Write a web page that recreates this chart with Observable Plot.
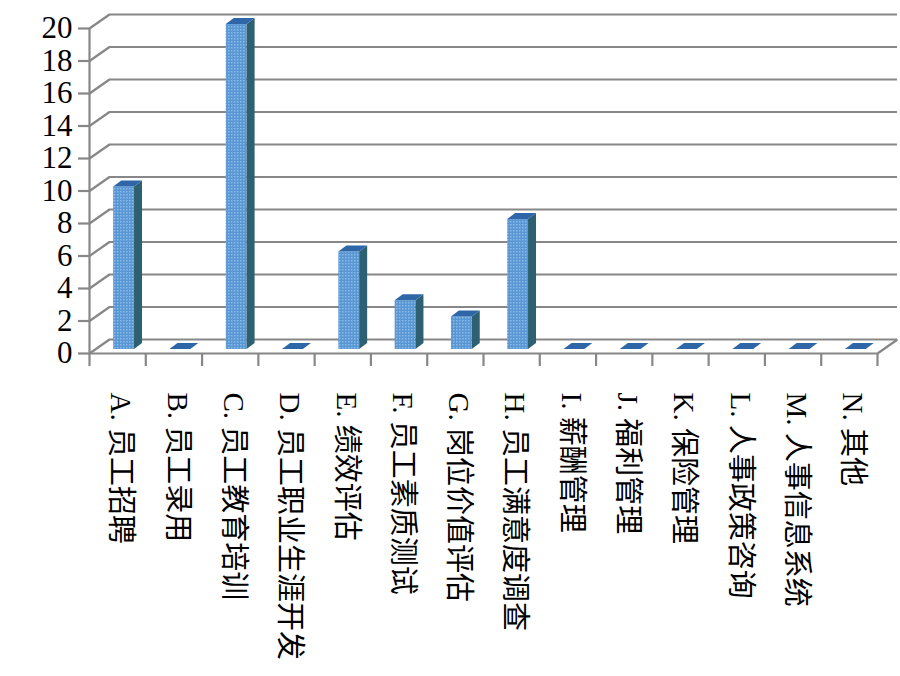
<!DOCTYPE html>
<html>
<head>
<meta charset="utf-8">
<script src="https://cdn.jsdelivr.net/npm/d3@7"></script>
<script src="https://cdn.jsdelivr.net/npm/@observablehq/plot@0.6"></script>
<style>
  html, body { margin: 0; padding: 0; background: #fff; }
</style>
</head>
<body>
<div id="chart"></div>
<script>
const cats = ["A. 员工招聘","B. 员工录用","C. 员工教育培训","D. 员工职业生涯开发","E. 绩效评估","F. 员工素质测试","G. 岗位价值评估","H. 员工满意度调查","I. 薪酬管理","J. 福利管理","K. 保险管理","L. 人事政策咨询","M. 人事信息系统","N. 其他"];
const values = [10, 0, 20, 0, 6, 3, 2, 8, 0, 0, 0, 0, 0, 0];
const yTicks = [0, 2, 4, 6, 8, 10, 12, 14, 16, 18, 20];

const W = 900, H = 676, mL = 89, mR = 23, mT = 28, mB = 323;
const n = cats.length;
const pxX = (W - mL - mR) / n;
const pxY = (H - mT - mB) / 20;
// 3D depth (pixels converted to data units)
const wallX = 20 / pxX, wallY = 14 / pxY;
const barA = 0.43, barB = 0.80, depX = 8 / pxX, depY = 6 / pxY;

const bars = cats.map((c, i) => ({cat: c, i, v: values[i], x1: i + barA, x2: i + barB, xc: i + 0.5}));
const sideData = bars.filter(d => d.v > 0).flatMap(d => [
  {cat: d.cat, x: d.x2, y1: 0, y2: d.v},
  {cat: d.cat, x: d.x2 + depX, y1: depY, y2: d.v + depY}
]);
const topData = bars.flatMap(d => [
  {cat: d.cat, y: d.v, x1: d.x1, x2: d.x2},
  {cat: d.cat, y: d.v + depY, x1: d.x1 + depX, x2: d.x2 + depX}
]);

const gridColor = "#878787";
const serif = "Liberation Serif, Times New Roman, Noto Sans CJK SC, serif";

const plot = Plot.plot({
  width: W, height: H,
  marginLeft: mL, marginRight: mR, marginTop: mT, marginBottom: mB,
  style: {background: "#fff", color: "#000", overflow: "visible"},
  x: {type: "linear", domain: [0, n]},
  y: {domain: [0, 20]},
  marks: [
    // back wall gridlines
    Plot.ruleY(yTicks, {y: d => d + wallY, x1: wallX, x2: n + wallX, stroke: gridColor, strokeWidth: 2.2}),
    // side wall diagonals
    Plot.link(yTicks, {x1: 0, y1: d => d, x2: wallX, y2: d => d + wallY, stroke: gridColor, strokeWidth: 2.2}),
    // floor front edge and right edge
    Plot.ruleY([0], {x1: 0, x2: n, stroke: gridColor, strokeWidth: 2.2}),
    Plot.link([0], {x1: n, y1: 0, x2: n + wallX, y2: wallY, stroke: gridColor, strokeWidth: 2.2}),
    // bars: front, side, top
    Plot.rect(bars.filter(d => d.v > 0), {x1: "x1", x2: "x2", y1: 0, y2: "v", fill: "url(#dots)", dy: -4}),
    Plot.areaY(sideData, {x: "x", y1: "y1", y2: "y2", z: "cat", fill: "#2d6070", dy: -4}),
    Plot.areaX(topData, {y: "y", x1: "x1", x2: "x2", z: "cat", fill: "#2f66a8", dy: -4}),
    // front vertical axis
    Plot.ruleX([0], {y1: 0, y2: 20, stroke: gridColor, strokeWidth: 2.2}),
    Plot.axisY(yTicks, {tickSize: 11, tickFormat: () => "", stroke: gridColor, strokeWidth: 2.2}),
    Plot.text(yTicks, {x: 0, y: d => d, text: d => String(d), textAnchor: "end", dx: -17, fontSize: 31, fontFamily: serif, fill: "#000"}),
    Plot.axisX(d3.range(n + 1), {tickSize: 13, tickFormat: () => "", stroke: gridColor, strokeWidth: 2.2}),
    Plot.text(bars, {x: "xc", y: 0, text: "cat", rotate: 90, textAnchor: "start", dx: 3, dy: 39, fontSize: 29, fontFamily: serif, fill: "#000"})
  ]
});

d3.select(plot).insert("defs", ":first-child").html(
  '<pattern id="dots" width="3" height="3" patternUnits="userSpaceOnUse">' +
  '<rect width="3" height="3" fill="#5896d4"/>' +
  '<rect width="1.5" height="1.5" fill="#8dbbe8"/></pattern>'
);

document.getElementById("chart").appendChild(plot);
</script>
</body>
</html>
